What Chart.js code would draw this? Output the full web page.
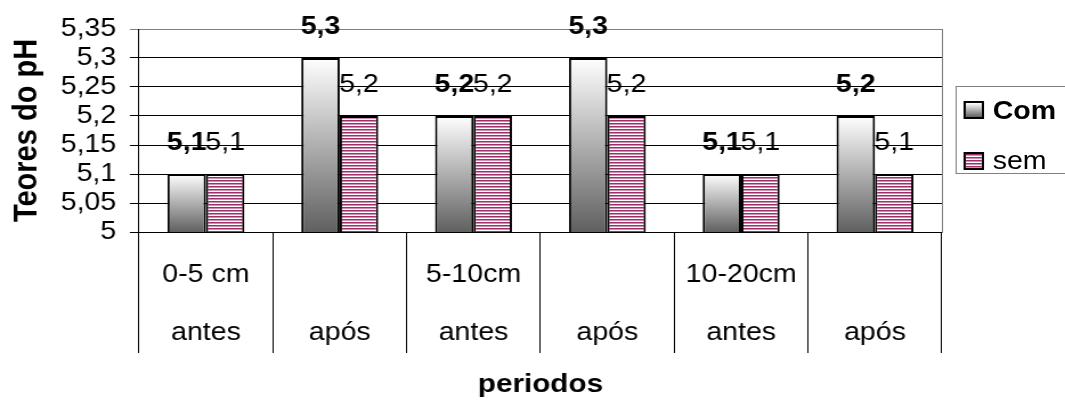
<!DOCTYPE html>
<html lang="pt">
<head>
<meta charset="utf-8">
<title>Teores do pH</title>
<script src="https://cdn.jsdelivr.net/npm/chart.js@4.4.1/dist/chart.umd.min.js"></script>
<style>
    html, body { margin: 0; padding: 0; width: 1065px; height: 400px; overflow: hidden; background: #fff; }
    /* the reference is drawn a bit wider than tall, so the whole chart is stretched horizontally */
    #wrap { position: relative; width: 934px; height: 400px; transform: scaleX(1.1403); transform-origin: 0 0; }
    #chart { display: block; }
    #legend { position: absolute; left: 837.5px; top: 86px; width: 150px; height: 86px;
              border: 1px solid #808080; font-family: "Liberation Sans", Arial, sans-serif; font-size: 25px; color: #000; }
    #legend .item { position: absolute; left: 6px; height: 25px; line-height: 25px; display: flex; align-items: center; white-space: nowrap; }
    #legend .sw { width: 18px; height: 18px; box-sizing: border-box; border: 2px solid #000; margin-right: 8px; }
    #legend .com { background: linear-gradient(to bottom, #ffffff, #606060); }
    #legend .sem { background: repeating-linear-gradient(to bottom, #9e2f6b 0px, #9e2f6b 1px, #cf8fb0 1px, #cf8fb0 2px, #fff 2px, #fff 3px); }
</style>
</head>
<body>
<div id="wrap">
    <canvas id="chart" width="934" height="400"></canvas>
    <div id="legend">
        <div class="item" style="top:10.5px"><span class="sw com"></span><b id="leg-0"></b></div>
        <div class="item" style="top:61px"><span class="sw sem"></span><span id="leg-1"></span></div>
    </div>
</div>
<script>
// --- 1. Daten ---
const CATEGORY_DEPTH = ['0-5 cm', '', '5-10cm', '', '10-20cm', ''];
const CATEGORY_PERIOD = ['antes', 'após', 'antes', 'após', 'antes', 'após'];
const SERIES_NAMES = ['Com', 'sem'];
const COM_VALUES = [5.1, 5.3, 5.2, 5.3, 5.1, 5.2];
const SEM_VALUES = [5.1, 5.2, 5.2, 5.2, 5.1, 5.1];
const Y_MIN = 5;
const Y_MAX = 5.35;
const Y_STEP = 0.05;
const Y_TITLE = 'Teores do pH';
const X_TITLE = 'periodos';

const FONT = '"Liberation Sans", Arial, sans-serif';

// 5.25 -> "5,25"
const fmt = v => String(Math.round(v * 100) / 100).replace('.', ',');

// --- 2. Fills ---
const canvas = document.getElementById('chart');
const c2d = canvas.getContext('2d');

function stripePattern() {
    const c = document.createElement('canvas');
    c.width = 4; c.height = 3;
    const g = c.getContext('2d');
    g.fillStyle = '#ffffff'; g.fillRect(0, 0, 4, 3);
    g.fillStyle = '#9e2f6b'; g.fillRect(0, 0, 4, 1);
    g.fillStyle = '#cf8fb0'; g.fillRect(0, 1, 4, 1);
    return c2d.createPattern(c, 'repeat');
}

function barGradient(ctx) {
    const chart = ctx.chart;
    if (!chart.chartArea || ctx.type !== 'data') return '#bbbbbb';
    const y = chart.scales.y;
    const top = y.getPixelForValue(ctx.parsed.y);
    const base = y.getPixelForValue(Y_MIN);
    const g = chart.ctx.createLinearGradient(0, top, 0, base);
    g.addColorStop(0, '#ffffff');
    g.addColorStop(1, '#606060');
    return g;
}

// value labels above the bars (drawn before the bars, like the original)
const barLabels = {
    id: 'barLabels',
    beforeDatasetsDraw(chart) {
        const ctx = chart.ctx;
        chart.data.datasets.forEach((ds, di) => {
            const meta = chart.getDatasetMeta(di);
            ctx.save();
            ctx.font = (di === 0 ? 'bold ' : '') + '25px ' + FONT;
            ctx.fillStyle = '#000';
            ctx.textAlign = 'center';
            ctx.textBaseline = 'middle';
            meta.data.forEach((bar, i) => {
                ctx.fillText(fmt(ds.data[i]), bar.x, bar.y - 31);
            });
            ctx.restore();
        });
    }
};

// --- 3. Chart ---
Chart.defaults.font.family = FONT;
Chart.defaults.color = '#000';

new Chart(canvas, {
    type: 'bar',
    data: {
        labels: CATEGORY_DEPTH.map((d, i) => [d, CATEGORY_PERIOD[i]]),
        datasets: [
            { label: SERIES_NAMES[0], data: COM_VALUES, backgroundColor: barGradient,
              borderColor: '#000', borderWidth: 2, borderSkipped: false,
              categoryPercentage: 0.575, barPercentage: 1 },
            { label: SERIES_NAMES[1], data: SEM_VALUES, backgroundColor: stripePattern(),
              borderColor: '#000', borderWidth: 2, borderSkipped: false,
              categoryPercentage: 0.575, barPercentage: 1 }
        ]
    },
    options: {
        responsive: false,
        animation: false,
        events: [],
        layout: { padding: { left: 0, right: 108, top: 29, bottom: 0 } },
        plugins: {
            legend: { display: false },
            tooltip: { enabled: false }
        },
        scales: {
            x: {
                offset: true,
                grid: { display: true, offset: true, drawOnChartArea: false, drawTicks: true,
                        tickLength: 121, color: '#000', lineWidth: 1 },
                border: { display: true, color: '#000', width: 1 },
                ticks: { font: { size: 25, lineHeight: 58 / 25 }, padding: -106.4,
                         maxRotation: 0, minRotation: 0, autoSkip: false },
                title: { display: true, text: X_TITLE, font: { size: 26, weight: 'bold' },
                         padding: { top: 0, bottom: 0 } },
                afterFit: s => { s.height = 168; }
            },
            y: {
                min: Y_MIN,
                max: Y_MAX,
                ticks: { stepSize: Y_STEP, autoSkip: false, font: { size: 25 }, padding: 12,
                         callback: v => fmt(v) },
                grid: { color: c => (c.tick && c.tick.value > Y_MAX - 0.001) ? '#808080' : '#000',
                        tickLength: 8, lineWidth: 1 },
                border: { color: '#000', width: 1 },
                title: { display: true, text: Y_TITLE, font: { size: 29, weight: 'bold' },
                         padding: { top: 6.6, bottom: 0 } },
                afterFit: s => { s.width = 121.9; }
            },
            // grey right edge of the plot area
            y2: {
                position: 'right',
                ticks: { display: false },
                grid: { drawOnChartArea: false, drawTicks: false },
                border: { color: '#808080', width: 1 }
            }
        }
    },
    plugins: [barLabels]
});

SERIES_NAMES.forEach((n, i) => { document.getElementById('leg-' + i).textContent = n; });
</script>
</body>
</html>
